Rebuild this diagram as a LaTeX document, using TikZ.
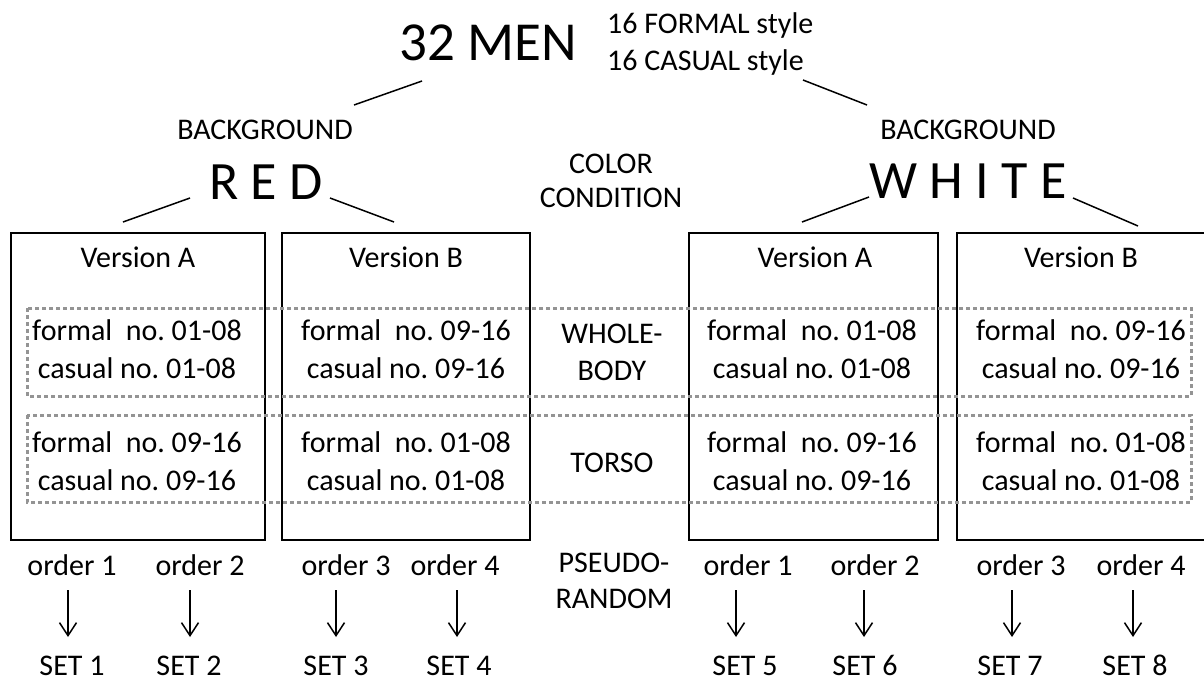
\documentclass[tikz,border=0pt]{standalone}
\usepackage{fontspec}
\setmainfont{Carlito}
\usetikzlibrary{arrows.meta}
\frenchspacing
\tikzset{
  txt/.style={font=\fontsize{30}{36}\selectfont, inner sep=0pt, anchor=base},
  bigtxt/.style={font=\fontsize{55}{60}\selectfont, inner sep=0pt, anchor=base},
  colortxt/.style={font=\fontsize{54}{60}\selectfont, inner sep=0pt, anchor=base},
  conn/.style={line width=1.5pt},
  panel/.style={draw, line width=1.5pt, inner sep=0pt},
  band/.style={draw=black!42, line width=3pt, dash pattern=on 4pt off 3pt},
  arr/.style={line width=1.5pt, -{Straight Barb[length=13pt,width=17pt,line width=1.5pt]}}
}
\begin{document}
\begin{tikzpicture}[x=1pt, y=-1pt]
\useasboundingbox (0,0) rectangle (1204,686);
\clip (0,0) rectangle (1204,686);

% top level
\node[bigtxt] (men) at (488,60) {32 MEN};
\node[txt, anchor=base west] (formal) at (607,33) {16 FORMAL style};
\node[txt, anchor=base west] (casual) at (607,70) {16 CASUAL style};
\coordinate (mL1) at (354,105); \coordinate (mL2) at (422,81);
\coordinate (mR1) at (803,80);  \coordinate (mR2) at (867,105);
\draw[conn] (mL1) -- (mL2);
\draw[conn] (mR1) -- (mR2);

% colour conditions
\node[txt] (bgred) at (265,139) {BACKGROUND};
\node[colortxt] (red) at (266,199) {R E D};
\node[txt] (bgwhite) at (968,139) {BACKGROUND};
\node[colortxt] (white) at (968,198) {W H I T E};
\node[txt] (color) at (611,173) {COLOR};
\node[txt] (condition) at (611,207) {CONDITION};

\coordinate (rL1) at (123,222); \coordinate (rL2) at (190,198);
\coordinate (rR1) at (330,198); \coordinate (rR2) at (394,222);
\coordinate (wL1) at (802,222); \coordinate (wL2) at (869,197);
\coordinate (wR1) at (1073,198); \coordinate (wR2) at (1138,226);
\draw[conn] (rL1) -- (rL2);
\draw[conn] (rR1) -- (rR2);
\draw[conn] (wL1) -- (wL2);
\draw[conn] (wR1) -- (wR2);

% version panels
\node[panel, minimum width=254pt, minimum height=307pt] (redA) at (138,386.5) {};
\node[panel, minimum width=248pt, minimum height=307pt] (redB) at (406,386.5) {};
\node[panel, minimum width=249pt, minimum height=307pt] (whiteA) at (813.5,386.5) {};
\node[panel, minimum width=260pt, minimum height=307pt] (whiteB) at (1087,386.5) {};

% body-part bands
\draw[band] (27,308) rectangle (1191,396);
\draw[band] (27,415) rectangle (1191,502);

% panel contents
\node[txt] (vA1) at (138,267) {Version A};
\node[txt] (vB1) at (406,267) {Version B};
\node[txt] (vA2) at (815,267) {Version A};
\node[txt] (vB2) at (1081,267) {Version B};

\node[txt] (a1) at (137,340) {formal\ \ no. 01-08};
\node[txt] (a2) at (137,378) {casual no. 01-08};
\node[txt] (a3) at (137,452) {formal\ \ no. 09-16};
\node[txt] (a4) at (137,490) {casual no. 09-16};

\node[txt] (b1) at (406,340) {formal\ \ no. 09-16};
\node[txt] (b2) at (406,378) {casual no. 09-16};
\node[txt] (b3) at (406,452) {formal\ \ no. 01-08};
\node[txt] (b4) at (406,490) {casual no. 01-08};

\node[txt] (c1) at (812,340) {formal\ \ no. 01-08};
\node[txt] (c2) at (812,378) {casual no. 01-08};
\node[txt] (c3) at (812,452) {formal\ \ no. 09-16};
\node[txt] (c4) at (812,490) {casual no. 09-16};

\node[txt] (d1) at (1081,340) {formal\ \ no. 09-16};
\node[txt] (d2) at (1081,378) {casual no. 09-16};
\node[txt] (d3) at (1081,452) {formal\ \ no. 01-08};
\node[txt] (d4) at (1081,490) {casual no. 01-08};

% middle column labels
\node[txt] (whole) at (612,343) {WHOLE-};
\node[txt] (body) at (612,380) {BODY};
\node[txt] (torso) at (612,472) {TORSO};
\node[txt] (pseudo) at (614,572) {PSEUDO-};
\node[txt] (random) at (614,608) {RANDOM};

% orders and sets
\foreach \i/\ox/\ax/\sx/\o/\s in {1/72/68/72/1/1, 2/200/190/189/2/2, 3/346/336/336/3/3, 4/455/457/459/4/4,
                                  5/748/736/745/1/5, 6/875/864/865/2/6, 7/1021/1012/1010/3/7, 8/1141/1133/1135/4/8}{
  \node[txt] (o\i) at (\ox,575) {order \o};
  \node[txt] (s\i) at (\sx,675) {SET \s};
  \coordinate (p\i) at (\ax,590);
  \coordinate (q\i) at (\ax,637);
  \draw[arr] (p\i) -- (q\i);
}
\end{tikzpicture}
\end{document}
